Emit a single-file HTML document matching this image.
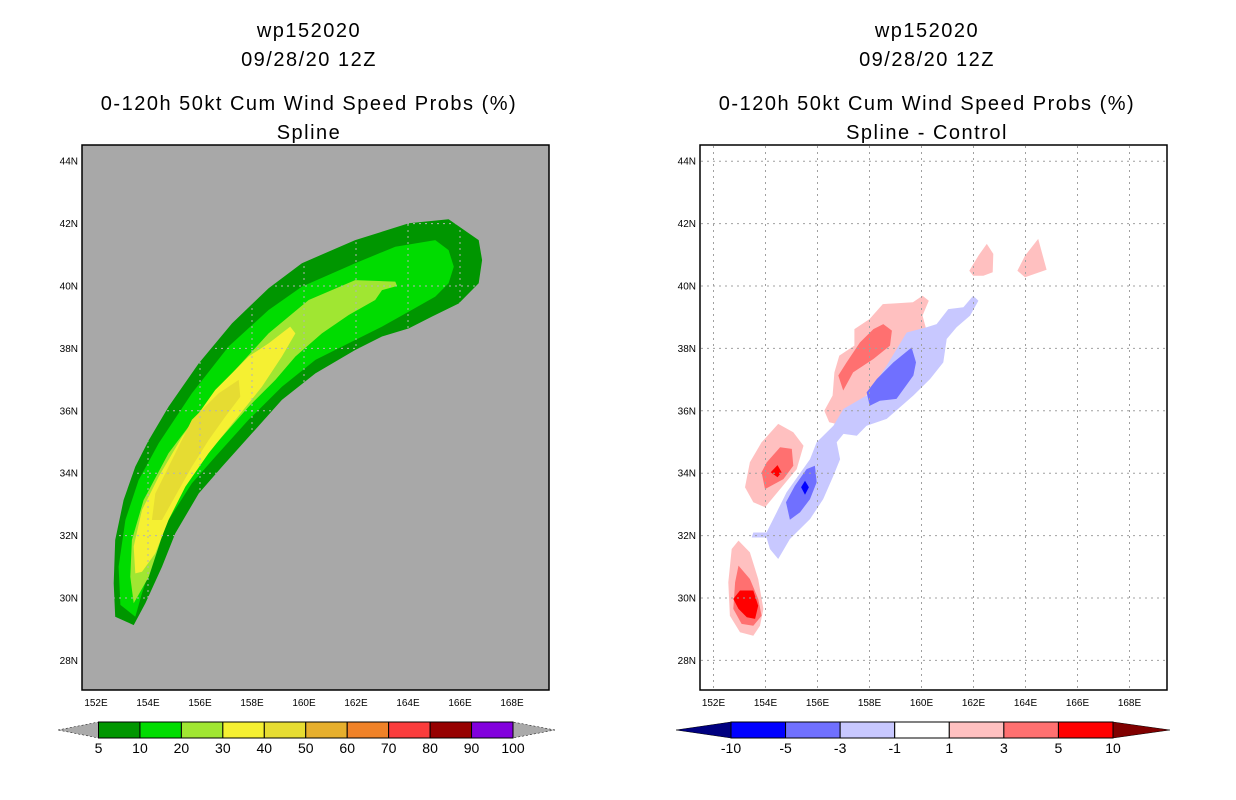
<!DOCTYPE html>
<html><head><meta charset="utf-8">
<style>
html,body{margin:0;padding:0;background:#fff;}
svg{display:block;font-family:"Liberation Sans",sans-serif;}
.t{font-size:20px;letter-spacing:1.5px;text-anchor:middle;fill:#000;}
.tk{font-size:10px;fill:#000;}
.cb{font-size:14px;text-anchor:middle;fill:#000;}
</style></head>
<body>
<svg id="chart" width="1236" height="800" viewBox="0 0 1236 800">
<defs><clipPath id="lclip"><polygon id="lclipPoly" points=""/></clipPath></defs>
<g>
<text class="t" x="309" y="37">wp152020</text>
<text class="t" x="309" y="66">09/28/20 12Z</text>
<text class="t" x="309" y="110">0-120h 50kt Cum Wind Speed Probs (%)</text>
<text class="t" x="309" y="139">Spline</text>
</g>
<g>
<text class="t" x="927" y="37">wp152020</text>
<text class="t" x="927" y="66">09/28/20 12Z</text>
<text class="t" x="927" y="110">0-120h 50kt Cum Wind Speed Probs (%)</text>
<text class="t" x="927" y="139">Spline - Control</text>
</g>
<rect x="82" y="145" width="467" height="545" fill="#a8a8a8"/>
<rect x="700" y="145" width="467" height="545" fill="#fff"/>
<g id="left"></g>
<g id="leftgrid" clip-path="url(#lclip)"></g>
<g id="leftlabels"></g>
<g id="right"></g>
<rect x="82" y="145" width="467" height="545" fill="none" stroke="#000" stroke-width="1.5"/>
<rect x="700" y="145" width="467" height="545" fill="none" stroke="#000" stroke-width="1.5"/>
<g id="lcb"></g>
<g id="rcb"></g>
</svg>
<script>
const lonTicks=[152,154,156,158,160,162,164,166,168];
const latTicks=[28,30,32,34,36,38,40,42,44];
const p5=[[153.45,29.13],[152.74,29.40],[152.68,30.47],[152.74,31.86],[153.06,33.14],[153.51,34.21],[154.03,35.06],[154.79,36.13],[155.95,37.52],[157.23,38.80],[158.64,39.93],[159.92,40.73],[161.97,41.47],[164.03,42.01],[165.56,42.14],[166.72,41.47],[166.85,40.83],[166.72,40.09],[165.95,39.44],[164.92,39.02],[164.03,38.64],[163.00,38.38],[161.97,37.95],[160.44,37.20],[159.15,36.35],[158.00,35.28],[156.85,34.21],[155.95,33.35],[155.05,32.07],[154.54,31.00],[153.90,29.83]];
const p10=[[153.51,29.40],[152.94,29.78],[152.87,31.00],[153.13,32.50],[153.64,33.78],[154.41,34.96],[155.69,36.56],[157.10,38.06],[158.64,39.23],[159.92,39.98],[161.97,40.73],[163.51,41.26],[165.05,41.47],[165.56,41.15],[165.76,40.62],[165.56,40.09],[165.05,39.66],[164.03,39.18],[163.00,38.70],[161.97,38.27],[160.44,37.63],[159.15,36.77],[157.87,35.71],[156.59,34.53],[155.69,33.68],[154.79,32.50],[154.28,31.43],[153.77,30.15]];
const p20=[[153.45,29.83],[153.32,30.68],[153.38,31.86],[153.83,33.14],[154.79,34.64],[155.95,35.92],[157.23,37.20],[158.64,38.48],[160.18,39.55],[161.97,40.19],[163.51,40.14],[163.58,40.00],[163.00,39.87],[162.74,39.55],[161.72,39.07],[160.69,38.48],[159.67,37.74],[158.90,36.99],[157.87,36.13],[156.85,35.17],[155.82,34.21],[155.05,33.14],[154.54,31.97],[154.03,30.68]];
const p30=[[153.51,30.79],[153.45,31.65],[153.77,32.82],[154.41,33.89],[155.31,35.17],[156.59,36.67],[157.87,37.74],[158.64,38.16],[159.47,38.70],[159.67,38.48],[159.15,37.74],[158.38,36.77],[157.36,35.71],[156.33,34.64],[155.44,33.57],[154.79,32.50],[154.28,31.43],[153.77,30.84]];
const p40=[[154.15,32.50],[154.28,33.35],[154.92,34.42],[155.69,35.71],[156.72,36.56],[157.49,36.99],[157.55,36.45],[156.97,35.81],[156.33,35.06],[155.69,34.21],[155.18,33.46],[154.54,32.50]];
const posA1=[[152.96,31.84],[153.40,31.46],[153.72,30.61],[153.92,29.65],[153.79,29.11],[153.53,28.79],[153.02,28.90],[152.63,29.43],[152.57,30.50],[152.70,31.57]];
const posA3=[[152.96,31.04],[153.40,30.61],[153.72,29.97],[153.85,29.43],[153.53,29.11],[153.08,29.17],[152.76,29.65],[152.83,30.50]];
const posA5=[[153.02,30.24],[153.53,30.24],[153.72,29.75],[153.60,29.33],[153.28,29.38],[152.96,29.65],[152.76,29.97]];
const posB1=[[154.49,35.58],[155.07,35.31],[155.46,34.88],[155.20,34.13],[154.56,33.49],[153.98,32.91],[153.53,33.07],[153.21,33.55],[153.40,34.35],[153.85,34.99]];
const posB3=[[154.56,34.83],[155.01,34.78],[155.07,34.24],[154.69,33.81],[153.98,33.49],[153.85,34.03],[154.05,34.35]];
const posB5=[[154.46,34.26],[154.62,34.03],[154.46,33.87],[154.20,34.03]];
const posC1=[[158.51,39.42],[159.67,39.48],[160.04,39.69],[160.28,39.53],[160.04,39.05],[160.18,38.62],[159.79,37.98],[159.15,37.45],[158.12,36.70],[157.35,36.06],[157.03,35.52],[156.45,35.63],[156.26,36.00],[156.58,36.49],[156.65,37.23],[156.84,37.77],[157.42,38.09],[157.42,38.62],[158.00,38.94]];
const posC3=[[158.53,38.78],[158.86,38.57],[158.79,38.09],[158.15,37.66],[157.37,37.23],[156.99,36.65],[156.80,37.13],[157.12,37.55],[157.63,38.19],[158.15,38.62]];
const posS1=[[159.81,39.53],[160.01,39.64],[160.10,39.50]];
const posD1=[[162.51,41.35],[162.76,41.03],[162.74,40.44],[162.38,40.33],[161.99,40.33],[161.84,40.49],[162.19,40.97]];
const posE1=[[164.49,41.51],[164.81,40.52],[163.98,40.28],[163.69,40.49],[163.98,40.97]];
const neg1=[[161.99,39.69],[162.19,39.53],[161.87,39.05],[161.35,38.68],[160.97,38.30],[160.84,37.55],[160.33,37.02],[159.69,36.49],[158.66,35.74],[157.89,35.52],[157.51,35.20],[157.00,35.26],[156.74,34.99],[156.87,34.45],[156.61,33.92],[156.22,33.17],[155.71,32.53],[154.94,31.89],[154.49,31.25],[154.17,31.57],[154.04,31.94],[153.47,31.94],[153.53,32.10],[154.04,32.10],[154.43,32.75],[154.81,33.39],[155.71,34.45],[155.97,34.99],[156.61,35.52],[157.00,36.06],[157.89,36.49],[158.66,37.45],[159.43,38.51],[160.20,38.68],[160.58,38.78],[161.03,39.26],[161.61,39.32]];
const negC3=[[159.62,38.03],[159.79,37.55],[159.69,37.13],[159.04,36.38],[158.40,36.32],[158.01,36.16],[157.89,36.59],[158.28,37.02],[158.92,37.55]];
const negB3=[[155.90,34.24],[155.97,33.71],[155.71,33.17],[155.33,32.75],[154.94,32.51],[154.79,33.07],[155.13,33.60],[155.58,34.13]];
const negB5=[[155.52,33.76],[155.67,33.55],[155.52,33.31],[155.37,33.55]];
const leftLevels=['5','10','20','30','40','50','60','70','80','90','100'];
const leftColors=['#009600','#00dc00','#a0e632','#f5f032','#e6dc32','#e6af2d','#f08228','#fa3c3c','#960000','#8200dc'];
const rightLevels=['-10','-5','-3','-1','1','3','5','10'];
const rightColors=['#0000ff','#7070ff','#c8c8ff','#ffffff','#ffc0c0','#ff7070','#ff0000'];

const NS='http://www.w3.org/2000/svg';
function mk(tag,attrs,parent){const e=document.createElementNS(NS,tag);for(const k in attrs)e.setAttribute(k,attrs[k]);parent.appendChild(e);return e;}
function xScale(x0){return lon=>x0+(lon-152)*26;}
function yScale(lat){return 286-(lat-40)*31.2;}
function ptsStr(xs,pts){return pts.map(p=>xs(p[0]).toFixed(1)+','+yScale(p[1]).toFixed(1)).join(' ');}
function poly(g,xs,pts,fill,name){
  const e=mk('polygon',{points:ptsStr(xs,pts),fill:fill},g);
  
  
}
function grid(g,lg,xs,x0,color){
  lonTicks.forEach(l=>{
    const x=xs(l);
    const ln=mk('line',{x1:x,y1:146,x2:x,y2:689,stroke:color,'stroke-width':1,'stroke-dasharray':'2,4'},g);
    
    
    const t=mk('text',{x:x,y:706,'text-anchor':'middle',class:'tk'},lg);t.textContent=l+'E';
    
    
  });
  latTicks.forEach(l=>{
    const y=yScale(l);
    const ln=mk('line',{x1:x0+1,y1:y,x2:x0+466,y2:y,stroke:color,'stroke-width':1,'stroke-dasharray':'2,4'},g);
    
    
    const t=mk('text',{x:x0-4,y:y+3.5,'text-anchor':'end',class:'tk'},lg);t.textContent=l+'N';
    
    
  });
}
const L=document.getElementById('left'),R=document.getElementById('right');
const xl=xScale(96),xr=xScale(713.5);
poly(L,xl,p5,leftColors[0],'contour-5');
poly(L,xl,p10,leftColors[1],'contour-10');
poly(L,xl,p20,leftColors[2],'contour-20');
poly(L,xl,p30,leftColors[3],'contour-30');
poly(L,xl,p40,leftColors[4],'contour-40');
document.getElementById('lclipPoly').setAttribute('points',ptsStr(xl,p5));
grid(document.getElementById('leftgrid'),document.getElementById('leftlabels'),xl,82,'#b4b4b4');
[[posA1,'#ffc0c0'],[posA3,'#ff7070'],[posA5,'#ff0000'],[posB1,'#ffc0c0'],[posB3,'#ff7070'],[posB5,'#ff0000'],[posC1,'#ffc0c0'],[posC3,'#ff7070'],[posS1,'#ffc0c0'],[posD1,'#ffc0c0'],[posE1,'#ffc0c0']].forEach(a=>poly(R,xr,a[0],a[1],'positive-diff-contour'));
[[neg1,'#c8c8ff'],[negC3,'#7070ff'],[negB3,'#7070ff'],[negB5,'#0000ff']].forEach(a=>poly(R,xr,a[0],a[1],'negative-diff-contour'));
grid(R,R,xr,700,'#a0a0a0');

function colorbar(g,x0,x1,tipL,tipR,colors,labels,lc,rc,name){
  const y0=722,y1=738,w=(x1-x0)/colors.length;
  const a=mk('polygon',{points:`${tipL},${(y0+y1)/2} ${x0},${y0} ${x0},${y1}`,fill:lc,stroke:'#000','stroke-width':0.5,'stroke-dasharray':lc==='#aaaaaa'?'2,2':'none'},g);
  
  
  const b=mk('polygon',{points:`${tipR},${(y0+y1)/2} ${x1},${y0} ${x1},${y1}`,fill:rc,stroke:'#000','stroke-width':0.5,'stroke-dasharray':rc==='#aaaaaa'?'2,2':'none'},g);
  
  
  colors.forEach((c,i)=>{
    const r=mk('rect',{x:x0+i*w,y:y0,width:w,height:y1-y0,fill:c,stroke:'#000','stroke-width':1},g);
    
    
  });
  labels.forEach((l,i)=>{
    const t=mk('text',{x:x0+i*w,y:753,class:'cb'},g);t.textContent=l;
    
    
  });
}
colorbar(document.getElementById('lcb'),98.5,513,58,555,leftColors,leftLevels,'#aaaaaa','#aaaaaa','left-colorbar');
colorbar(document.getElementById('rcb'),731,1113,676,1170,rightColors,rightLevels,'#000080','#800000','right-colorbar');
</script>
</body></html>
